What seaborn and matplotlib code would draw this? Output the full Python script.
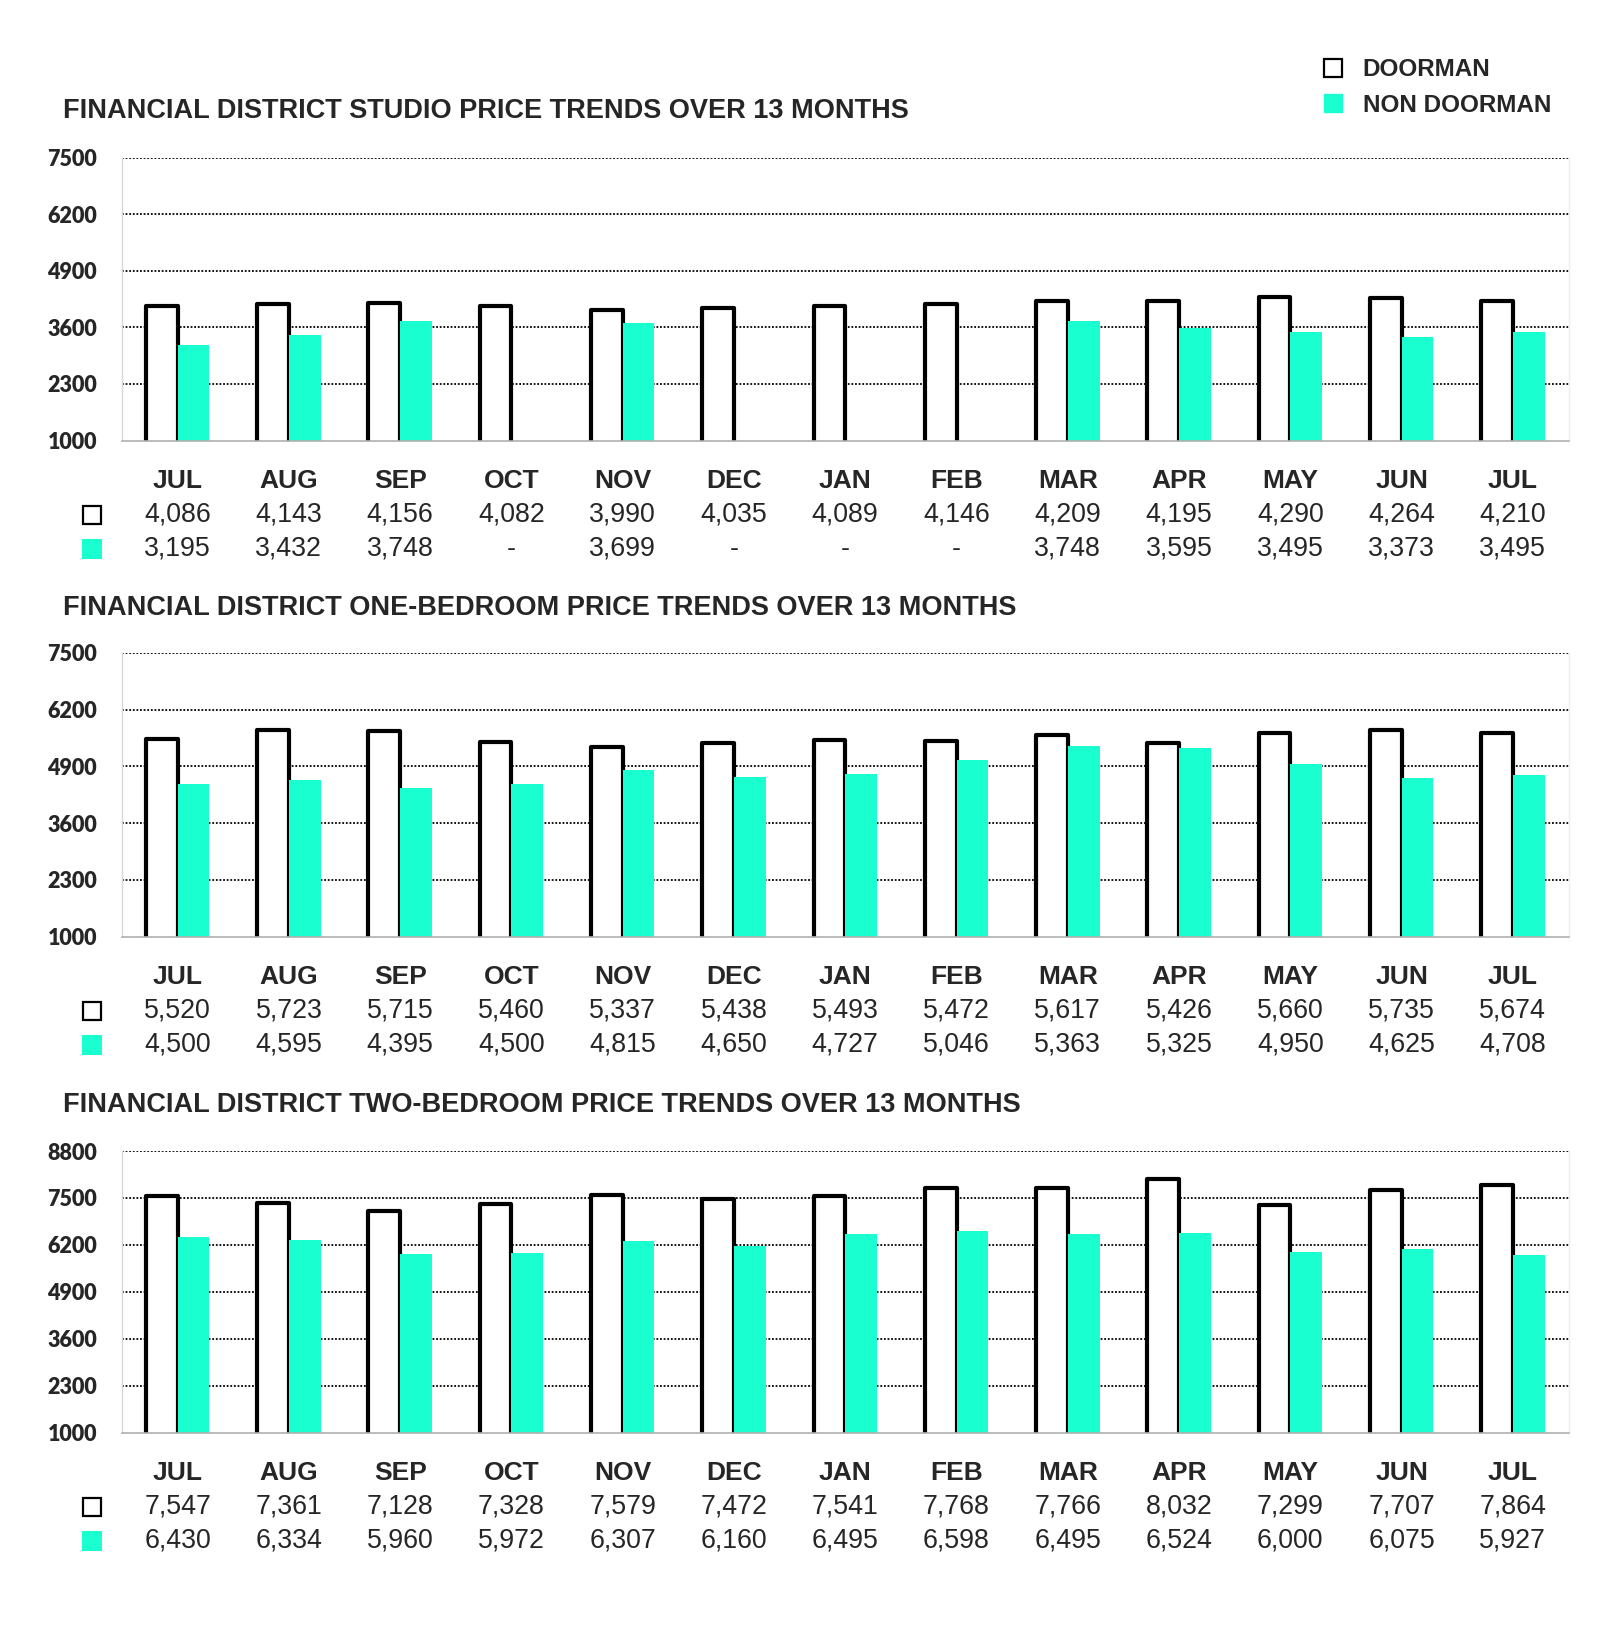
import numpy as np
import pandas as pd
import seaborn as sns
import matplotlib.pyplot as plt
from matplotlib.patches import Patch

months = ['JUL', 'AUG', 'SEP', 'OCT', 'NOV', 'DEC', 'JAN',
          'FEB', 'MAR', 'APR', 'MAY', 'JUN', 'JUL']

studio_doorman = [4086, 4143, 4156, 4082, 3990, 4035, 4089, 4146, 4209, 4195, 4290, 4264, 4210]
studio_non = [3195, 3432, 3748, np.nan, 3699, np.nan, np.nan, np.nan, 3748, 3595, 3495, 3373, 3495]

onebed_doorman = [5520, 5723, 5715, 5460, 5337, 5438, 5493, 5472, 5617, 5426, 5660, 5735, 5674]
onebed_non = [4500, 4595, 4395, 4500, 4815, 4650, 4727, 5046, 5363, 5325, 4950, 4625, 4708]

twobed_doorman = [7547, 7361, 7128, 7328, 7579, 7472, 7541, 7768, 7766, 8032, 7299, 7707, 7864]
twobed_non = [6430, 6334, 5960, 5972, 6307, 6160, 6495, 6598, 6495, 6524, 6000, 6075, 5927]

titles = [
    'FINANCIAL DISTRICT STUDIO PRICE TRENDS OVER 13 MONTHS',
    'FINANCIAL DISTRICT ONE-BEDROOM PRICE TRENDS OVER 13 MONTHS',
    'FINANCIAL DISTRICT TWO-BEDROOM PRICE TRENDS OVER 13 MONTHS',
]
y_ticks = [
    [1000, 2300, 3600, 4900, 6200, 7500],
    [1000, 2300, 3600, 4900, 6200, 7500],
    [1000, 2300, 3600, 4900, 6200, 7500, 8800],
]
series = [
    (studio_doorman, studio_non),
    (onebed_doorman, onebed_non),
    (twobed_doorman, twobed_non),
]

TEAL = '#1affd0'
W, H = 1600, 1648

sns.set_theme(style='white')
plt.rcParams['font.family'] = ['Liberation Sans', 'DejaVu Sans']

fig = plt.figure(figsize=(W / 100, H / 100), dpi=100)

# pixel layout: (top of axes, bottom of axes, title y)
layout = [(157.7, 440.5, 111.4), (652.8, 936.6, 607.6), (1151, 1432.8, 1104.8)]
ax_left, ax_right = 122, 1568.5


def fmt(v):
    return '-' if np.isnan(v) else f'{int(v):,}'


for (top, bot, ty), title, ticks, (door, non) in zip(layout, titles, y_ticks, series):
    ax = fig.add_axes([ax_left / W, 1 - bot / H, (ax_right - ax_left) / W, (bot - top) / H])

    df = pd.DataFrame({
        'idx': list(range(13)) * 2,
        'price': list(door) + list(non),
        'type': ['DOORMAN'] * 13 + ['NON DOORMAN'] * 13,
    })
    sns.barplot(data=df, x='idx', y='price', hue='type', order=list(range(13)),
                palette={'DOORMAN': 'white', 'NON DOORMAN': TEAL},
                saturation=1, width=0.57, gap=0, legend=False, ax=ax, err_kws={'linewidth': 0})

    for p in ax.containers[0]:
        p.set_edgecolor('black')
        p.set_linewidth(3.0)
        p.set_joinstyle('round')
    for p in ax.containers[1]:
        p.set_linewidth(0)

    ax.set_ylim(ticks[0], ticks[-1])
    ax.set_xlim(-0.5, 12.5)
    ax.set_yticks(ticks)
    ax.set_yticklabels([str(t) for t in ticks], fontfamily='Lato', fontweight='heavy', fontsize=15.5)
    ax.tick_params(axis='y', length=0, pad=18)
    for t in ticks[1:]:
        ax.axhline(t, color='black', linestyle=(0, (1, 1)), linewidth=1.3, zorder=0)

    ax.set_xticks([])
    ax.set_xticks(np.arange(-0.5, 13, 1), minor=True)
    ax.tick_params(axis='x', which='minor', length=8, width=1, color='#b0b0b0', direction='out')
    ax.set_xlabel('')
    ax.set_ylabel('')

    ax.spines['top'].set_visible(False)
    ax.spines['bottom'].set_color('#b0b0b0')
    ax.spines['bottom'].set_linewidth(1.2)
    ax.spines['left'].set_color('#d8d8d8')
    ax.spines['right'].set_color('#eeeeee')
    ax.spines['left'].set_linewidth(1)
    ax.spines['right'].set_linewidth(1)

    # table under the axis
    for i in range(13):
        ax.annotate(months[i], xy=(i, 0), xycoords=('data', 'axes fraction'),
                    xytext=(0, -40 * 0.72), textcoords='offset points',
                    ha='center', va='center', fontsize=19, fontweight='bold', annotation_clip=False)
        ax.annotate(fmt(door[i]), xy=(i, 0), xycoords=('data', 'axes fraction'),
                    xytext=(0, -74 * 0.72), textcoords='offset points',
                    ha='center', va='center', fontsize=19.3, annotation_clip=False)
        ax.annotate(fmt(non[i]), xy=(i, 0), xycoords=('data', 'axes fraction'),
                    xytext=(0, -108 * 0.72), textcoords='offset points',
                    ha='center', va='center', fontsize=19.3, annotation_clip=False)

    ah = bot - top
    aw = ax_right - ax_left
    ax.plot([-30.5 / aw], [-74 / ah], marker='s', markersize=13, markerfacecolor='white',
            markeredgecolor='black', markeredgewidth=1.6, transform=ax.transAxes, clip_on=False)
    ax.plot([-30.5 / aw], [-108 / ah], marker='s', markersize=14, markerfacecolor=TEAL,
            markeredgewidth=0, transform=ax.transAxes, clip_on=False)

    fig.text(63 / W, 1 - ty / H, title, fontsize=19.5, fontweight='bold', va='center', ha='left')

handles = [Patch(facecolor='white', edgecolor='black', linewidth=1.6),
           Patch(facecolor=TEAL, edgecolor=TEAL)]
fig.legend(handles, ['DOORMAN', 'NON DOORMAN'], loc='center left',
           bbox_to_anchor=(1302 / W, 1 - 87.5 / H), frameon=False,
           handlelength=0.75, handleheight=0.75, handletextpad=0.85, labelspacing=0.5,
           prop={'size': 17.5, 'weight': 'bold'})

fig.savefig('out.png', dpi=100)
